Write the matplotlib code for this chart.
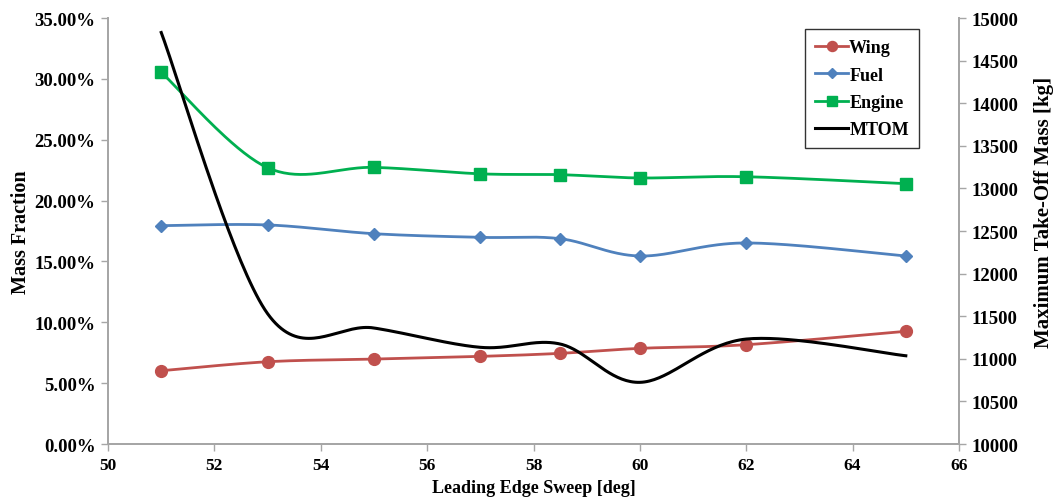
import matplotlib

matplotlib.use("Agg")
import matplotlib.pyplot as plt
import numpy as np
from matplotlib.ticker import FuncFormatter, MultipleLocator

# leading edge sweep [deg]
sweep = [51, 53, 55, 57, 58.5, 60, 62, 65]
# mass fractions [%]
wing = [6.02, 6.76, 6.98, 7.20, 7.45, 7.86, 8.16, 9.26]
fuel = [17.94, 18.00, 17.28, 16.98, 16.87, 15.45, 16.52, 15.45]
engine = [30.54, 22.70, 22.73, 22.20, 22.13, 21.86, 21.96, 21.39]
# maximum take-off mass [kg]
mtom = [14830, 11530, 11362, 11135, 11174, 10724, 11232, 11036]

GRAY = "#A6A6A6"
plt.rcParams["font.family"] = ["Liberation Serif", "DejaVu Serif"]
plt.rcParams["font.weight"] = "bold"


def smooth(x, y, n=40):
    """Excel-style smoothed line: cubic Bezier with Catmull-Rom control points."""
    p = np.column_stack([x, y]).astype(float)
    ext = np.vstack([p[0], p, p[-1]])
    t = np.linspace(0.0, 1.0, n)[:, None]
    segs = []
    for i in range(len(p) - 1):
        p0, p3 = ext[i + 1], ext[i + 2]
        c1 = p0 + (ext[i + 2] - ext[i]) / 6.0
        c2 = p3 - (ext[i + 3] - ext[i + 1]) / 6.0
        b = (1 - t) ** 3 * p0 + 3 * (1 - t) ** 2 * t * c1 + 3 * (1 - t) * t ** 2 * c2 + t ** 3 * p3
        segs.append(b if i == 0 else b[1:])
    b = np.vstack(segs)
    return b[:, 0], b[:, 1]


fig = plt.figure(figsize=(10.55, 5.02), dpi=100)
ax = fig.add_axes([0.1024, 0.1135, 0.8066, 0.8486])
ax2 = ax.twinx()

series = [
    ("Wing", wing, "#C0504D", "o", 8.5),
    ("Fuel", fuel, "#4F81BD", "D", 6.5),
    ("Engine", engine, "#00B050", "s", 8.5),
]
handles = []
for name, vals, color, marker, ms in series:
    sx, sy = smooth(sweep, vals)
    ax.plot(sx, sy, color=color, lw=2.0, solid_capstyle="butt")
    ax.plot(sweep, vals, ls="none", marker=marker, ms=ms, color=color)
    handles.append(plt.Line2D([], [], color=color, lw=2.0, marker=marker, ms=ms * 0.85, label=name))

mx, my = smooth(sweep, mtom)
ax2.plot(mx, my, color="black", lw=2.2)
handles.append(plt.Line2D([], [], color="black", lw=2.2, label="MTOM"))

ax.set_xlim(50, 66)
ax.set_ylim(0, 35)
ax2.set_ylim(10000, 15000)
ax.xaxis.set_major_locator(MultipleLocator(2))
ax.yaxis.set_major_locator(MultipleLocator(5))
ax2.yaxis.set_major_locator(MultipleLocator(500))
ax.yaxis.set_major_formatter(FuncFormatter(lambda v, _: f"{v:.2f}%"))

for a in (ax, ax2):
    a.spines["top"].set_visible(False)
    for side in ("left", "right", "bottom"):
        a.spines[side].set_color(GRAY)
        a.spines[side].set_linewidth(1.3)
    a.tick_params(axis="both", direction="out", length=5, width=1.0, color=GRAY,
                  labelcolor="black")
    a.tick_params(axis="y", labelsize=13.5, pad=4)
ax.tick_params(axis="x", labelsize=12.5, pad=4)

ax.set_xlabel("Leading Edge Sweep [deg]", fontsize=13, fontweight="bold", labelpad=5)
ax.set_ylabel("Mass Fraction", fontsize=14.5, fontweight="bold", labelpad=2.5)
ax2.set_ylabel("Maximum Take-Off Mass [kg]", fontsize=15, fontweight="bold", labelpad=11)
ax2.yaxis.label.set_y(0.547)

leg = ax2.legend(handles=handles, loc="upper left", bbox_to_anchor=(0.819, 0.974),
                 frameon=True, fancybox=False, edgecolor="black", fontsize=13,
                 handlelength=1.85, handletextpad=0.05, borderpad=0.55, labelspacing=0.58,
                 borderaxespad=0.0)
leg.get_frame().set_linewidth(1.0)
for txt in leg.get_texts():
    txt.set_fontweight("bold")

fig.savefig("out.png", dpi=100)
